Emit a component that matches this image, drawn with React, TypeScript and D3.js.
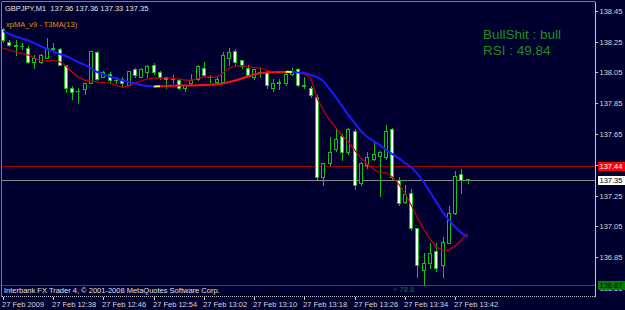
import React from 'react';
import * as d3 from 'd3';

const W = 625;
const H = 310;

// OHLC of the 1-minute GBPJPY bars, 12:30 .. 13:44
const opens = [138.33,138.25,138.23,138.22,138.21,138.12,138.12,138.14,138.21,138.20,138.10,137.95,137.93,137.94,137.98,138.18,138.02,138.04,138.00,138.01,137.97,138.07,138.02,138.05,138.10,138.05,138.02,138.01,138.00,137.95,137.98,138.01,138.08,138.02,137.99,137.99,138.14,138.19,138.13,138.08,138.02,138.05,138.05,137.95,137.98,137.98,138.04,138.07,137.97,137.95,137.89,137.37,137.46,137.55,137.64,137.53,137.67,137.33,137.45,137.49,137.51,137.50,137.68,137.35,137.21,137.27,137.04,136.77,136.81,136.89,136.80,136.94,137.14,137.39,137.36];
const highs = [138.34,138.26,138.26,138.24,138.22,138.16,138.17,138.27,138.24,138.21,138.10,137.96,137.95,137.98,138.19,138.19,138.06,138.05,138.02,138.02,138.06,138.08,138.08,138.10,138.11,138.06,138.02,138.03,138.01,137.97,138.04,138.10,138.12,138.03,138.02,138.18,138.21,138.20,138.13,138.10,138.07,138.08,138.06,138.01,138.01,138.05,138.08,138.08,138.02,137.96,137.90,137.46,137.63,137.69,137.65,137.69,137.68,137.47,137.53,137.60,137.54,137.71,137.69,137.37,137.32,137.29,137.04,136.88,136.94,136.94,136.98,137.18,137.41,137.42,137.36];
const lows = [138.25,138.22,138.16,138.20,138.11,138.08,138.11,138.14,138.19,138.10,137.92,137.88,137.85,137.91,137.98,138.00,138.02,137.98,137.98,137.96,137.97,138.02,138.02,138.02,138.04,138.01,137.95,137.98,137.94,137.93,137.97,138.00,138.03,137.99,137.98,137.99,138.10,138.10,138.08,138.03,138.01,138.02,137.95,137.93,137.94,137.97,138.03,137.96,137.95,137.89,137.36,137.32,137.45,137.54,137.48,137.52,137.29,137.32,137.43,137.48,137.25,137.49,137.36,137.19,137.20,137.03,136.72,136.67,136.78,136.76,136.72,136.94,137.13,137.27,137.33];
const closes = [138.26,138.23,138.22,138.22,138.12,138.14,138.16,138.21,138.20,138.10,137.95,137.92,137.93,137.98,138.19,138.01,138.05,138.00,138.00,137.98,138.06,138.03,138.07,138.09,138.05,138.02,138.01,138.01,137.95,137.97,138.00,138.09,138.03,138.02,138.01,138.16,138.18,138.12,138.09,138.03,138.07,138.05,137.97,137.98,137.99,138.04,138.05,137.97,137.96,137.90,137.37,137.46,137.53,137.62,137.53,137.68,137.32,137.46,137.50,137.52,137.53,137.67,137.37,137.20,137.26,137.04,136.80,136.81,136.88,136.78,136.95,137.14,137.38,137.35,137.35];

// xpMA_v9 values and its trend state (-1 down, 0 neutral, 1 up)
const xpMA = [138.318,138.299,138.283,138.270,138.257,138.240,138.221,138.201,138.185,138.169,138.156,138.137,138.117,138.098,138.078,138.052,138.036,138.023,138.010,137.997,137.987,137.978,137.968,137.961,137.958,137.960,137.961,137.963,137.964,137.965,137.965,137.967,137.968,137.969,137.972,137.978,137.987,137.997,138.010,138.023,138.036,138.046,138.049,138.050,138.052,138.054,138.052,138.049,138.046,138.033,138.020,137.994,137.942,137.890,137.831,137.773,137.721,137.669,137.630,137.604,137.579,137.546,137.520,137.494,137.462,137.436,137.391,137.339,137.274,137.209,137.144,137.092,137.047,137.008,136.982];
const xpTrend = [-1,-1,-1,-1,-1,-1,-1,-1,-1,-1,-1,-1,-1,-1,-1,-1,-1,-1,-1,-1,-1,-1,-1,-1,-1,0,1,1,1,1,1,1,1,1,1,1,1,1,1,1,1,1,1,1,1,1,0,-1,-1,-1,-1,-1,-1,-1,-1,-1,-1,-1,-1,-1,-1,-1,-1,-1,-1,-1,-1,-1,-1,-1,-1,-1,-1,-1,-1];

// T3MA(13)
const t3MA = [138.208,138.195,138.182,138.172,138.163,138.143,138.127,138.124,138.130,138.120,138.091,138.052,138.020,138.000,137.994,137.987,137.984,137.981,137.968,137.952,137.961,137.981,137.994,138.007,138.013,138.013,138.013,138.013,138.007,138.000,138.000,138.010,138.020,138.020,138.017,138.046,138.078,138.091,138.094,138.088,138.081,138.078,138.065,138.052,138.046,138.049,138.052,138.049,138.039,138.013,137.884,137.806,137.741,137.689,137.637,137.598,137.546,137.494,137.455,137.423,137.397,137.400,137.371,137.325,137.267,137.189,137.105,137.033,136.969,136.917,136.897,136.897,136.923,136.962,137.001];

const timeLabels = ['27 Feb 2009','27 Feb 12:38','27 Feb 12:46','27 Feb 12:54','27 Feb 13:02','27 Feb 13:10','27 Feb 13:18','27 Feb 13:26','27 Feb 13:34','27 Feb 13:42'];
const timeLabelBars = [0,8,16,24,32,40,48,56,64,72];
const priceTicks = [138.45,138.25,138.05,137.85,137.65,137.45,137.25,137.05,136.85,136.65];
const askPrice = 137.44;
const bidPrice = 137.35;
const lowLevel = 136.67;
const headerText = 'GBPJPY,M1  137.36 137.36 137.33 137.35';
const indicatorText = 'xpMA_v9 - T3MA(13)';
const signalLines = ['BullShit : bull', 'RSI : 49.84'];
const copyrightText = 'Interbank FX Trader 4, \u00a9 2001-2008 MetaQuotes Software Corp.';
const pipsText = '+ 78.8';

const BG = '#000030';
const CANDLE = '#13c013';
const FONT = 'Liberation Sans, Arial, sans-serif';

export default function App() {
  const n = opens.length;
  const x = d3.scaleLinear().domain([0, n - 1]).range([3, 467.7]);
  const y = d3.scaleLinear().domain([136.85, 138.45]).range([257.3, 10.7]);
  const px = (i: number) => Math.round(x(i));
  const fmt = d3.format('.2f');

  const plotL = 1.5, plotR = 594.5, plotT = 1.5, plotB = 296.5;

  const trendColor = (t: number) => (t < 0 ? '#1a1aff' : t > 0 ? '#ff1010' : '#ffff00');
  const runs: { color: string; pts: [number, number][] }[] = [];
  for (let i = 1; i < n; i++) {
    const c = trendColor(xpTrend[i]);
    const last = runs[runs.length - 1];
    if (last && last.color === c) last.pts.push([x(i), y(xpMA[i])]);
    else runs.push({ color: c, pts: [[x(i - 1), y(xpMA[i - 1])], [x(i), y(xpMA[i])]] });
  }
  const lineGen = d3.line<[number, number]>();
  const t3Path = d3.line<number>().x((_, i) => x(i)).y((d) => y(d))(t3MA) || '';

  const lowBoxY = Math.round(y(lowLevel));

  const boxLabel = (price: number, fill: string, color: string, key: string) => {
    const yy = Math.round(y(price));
    return (
      <g key={key}>
        <rect x={597.5} y={yy - 4.5} width={27} height={9} fill={fill} />
        <text x={599.5} y={yy + 3} fill={color} fontSize={7.5} fontFamily={FONT}>{fmt(price)}</text>
      </g>
    );
  };

  return (
    <svg width={W} height={H} style={{ position: 'absolute', left: 0, top: 0, background: BG }} shapeRendering="crispEdges">
      <defs>
        <clipPath id="belowLowBox">
          <rect x={590} y={lowBoxY + 4.5} width={35} height={20} />
        </clipPath>
      </defs>
      <rect x={0} y={0} width={W} height={H} fill={BG} />
      {/* level lines */}
      <line x1={plotL} x2={plotR} y1={Math.round(y(askPrice)) + 0.5} y2={Math.round(y(askPrice)) + 0.5} stroke="#a80000" />
      <line x1={plotL} x2={plotR} y1={Math.round(y(bidPrice)) + 0.5} y2={Math.round(y(bidPrice)) + 0.5} stroke="#8a8a8a" />
      <line x1={plotL} x2={plotR} y1={lowBoxY + 0.5} y2={lowBoxY + 0.5} stroke="#0d6a0d" />

      {/* candles */}
      {opens.map((o, i) => {
        const cx = px(i);
        const c = closes[i];
        const top = Math.round(y(Math.max(o, c)));
        const bot = Math.round(y(Math.min(o, c)));
        const bear = c < o;
        return (
          <g key={i}>
            <line x1={cx + 0.5} x2={cx + 0.5} y1={Math.round(y(highs[i]))} y2={Math.round(y(lows[i])) + 1} stroke={CANDLE} />
            {bot - top >= 1 ? (
              <rect x={cx - 1.5} y={top + 0.5} width={3} height={bot - top} fill={bear ? '#ffffff' : BG} stroke={CANDLE} />
            ) : (
              <line x1={cx - 2} x2={cx + 2} y1={top + 0.5} y2={top + 0.5} stroke={CANDLE} />
            )}
          </g>
        );
      })}

      {/* indicators */}
      <g shapeRendering="auto" fill="none">
        <path d={t3Path} stroke="#c80000" strokeWidth={1.2} />
        {runs.map((r, k) => (
          <path key={k} d={lineGen(r.pts) || ''} stroke={r.color} strokeWidth={2} />
        ))}
      </g>

      {/* frame */}
      <line x1={plotL} x2={plotL} y1={plotT} y2={plotB} stroke="#808080" />
      <line x1={plotL} x2={plotR} y1={plotT} y2={plotT} stroke="#808080" />
      <line x1={plotR + 0.5} x2={plotR + 0.5} y1={plotT} y2={plotB} stroke="#c8c8c8" />
      <line x1={plotL} x2={plotR + 1} y1={plotB} y2={plotB} stroke="#c0c0c0" strokeDasharray="1,1" />

      {/* price axis */}
      {priceTicks.map((p) => {
        const hidden = Math.abs(p - lowLevel) < 0.05;
        return (
          <g key={p} clipPath={hidden ? 'url(#belowLowBox)' : undefined}>
            <line x1={595} x2={598} y1={Math.round(y(p)) + 0.5} y2={Math.round(y(p)) + 0.5} stroke="#c8c8c8" />
            <text x={599.5} y={y(p) + 3} fill="#d8d8d8" fontSize={7.5} fontFamily={FONT}>{fmt(p)}</text>
          </g>
        );
      })}
      {boxLabel(askPrice, '#ff0000', '#ffffff', 'ask')}
      {boxLabel(bidPrice, '#ffffff', '#000000', 'bid')}
      {boxLabel(lowLevel, '#008000', '#000000', 'low')}

      {/* time axis */}
      {timeLabelBars.map((b, k) => (
        <g key={b}>
          <line x1={px(b) + 0.5} x2={px(b) + 0.5} y1={297} y2={300} stroke="#c8c8c8" />
          <text x={px(b) - 1} y={306.5} fill="#d8d8d8" fontSize={7.5} fontFamily={FONT}>{timeLabels[k]}</text>
        </g>
      ))}

      {/* texts */}
      <text x={5} y={10.5} fill="#e0e0e0" fontSize={7.5} fontFamily={FONT} style={{ whiteSpace: 'pre' }}>{headerText}</text>
      <text x={6} y={26.5} fill="#e09400" fontSize={7.5} fontFamily={FONT}>{indicatorText}</text>
      <text x={483} y={39.3} fill="#1e8f1e" fontSize={13.5} fontFamily={FONT}>{signalLines[0]}</text>
      <text x={483} y={55} fill="#1e8f1e" fontSize={13.5} fontFamily={FONT}>{signalLines[1]}</text>
      <text x={4} y={293} fill="#e0e0e0" fontSize={7.5} fontFamily={FONT}>{copyrightText}</text>
      <text x={393} y={292} fill="#2a6a2a" fontSize={7.5} fontFamily={FONT}>{pipsText}</text>
    </svg>
  );
}
